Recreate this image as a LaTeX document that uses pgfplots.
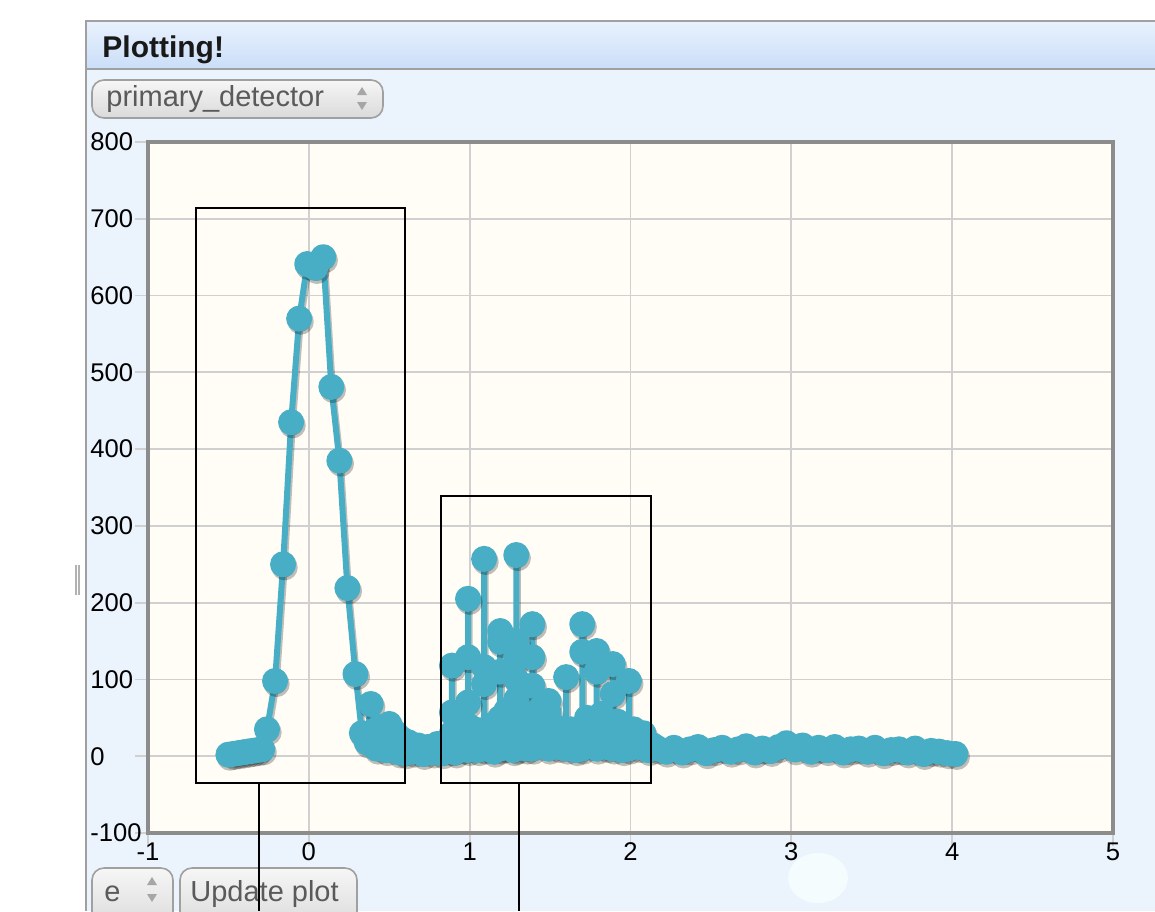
\documentclass[border=0pt]{standalone}
\usepackage{pgfplots}
\pgfplotsset{compat=1.18}
\usepackage{pgfplotstable}
\usepackage{fontspec}
\setmainfont{Liberation Sans}
\definecolor{panel}{RGB}{235,243,253}
\definecolor{bartop}{RGB}{233,242,253}
\definecolor{barbot}{RGB}{202,222,248}
\definecolor{bordc}{RGB}{160,160,160}
\definecolor{plotbg}{RGB}{255,253,246}
\definecolor{gridc}{RGB}{208,208,208}
\definecolor{axisc}{RGB}{140,140,140}
\definecolor{series}{RGB}{71,174,198}
\definecolor{btntop}{RGB}{246,246,246}
\definecolor{btnbot}{RGB}{218,218,218}
\definecolor{btntext}{RGB}{90,90,90}

\pgfplotstableread{
x y
-0.50 2
-0.47 3
-0.44 4
-0.41 5
-0.38 6
-0.35 7
-0.32 8
-0.29 9
-0.26 35
-0.21 98
-0.16 250
-0.11 435
-0.06 570
-0.01 641
0.04 636
0.09 650
0.14 481
0.19 385
0.24 219
0.29 107
0.33 30
0.36 18
0.385 68
0.40 25
0.42 10
0.44 38
0.46 20
0.48 8
0.50 42
0.52 15
0.54 30
0.56 5
0.58 22
0.60 4
0.62 18
0.65 6
0.68 14
0.71 3
0.74 12
0.77 5
0.80 16
0.83 4
0.86 20
0.89 8
0.89 57
0.89 118
0.89 30
0.91 5
0.93 25
0.96 10
0.99 8
0.99 70
0.99 129
0.99 205
0.99 40
1.01 15
1.03 35
1.05 8
1.07 30
1.09 10
1.09 94
1.09 116
1.09 257
1.09 30
1.11 12
1.13 40
1.15 6
1.17 30
1.19 10
1.19 110
1.19 149
1.19 163
1.19 50
1.21 12
1.23 60
1.25 20
1.27 8
1.29 10
1.29 74
1.29 100
1.29 126
1.29 150
1.29 262
1.29 40
1.31 15
1.33 55
1.35 10
1.37 30
1.39 10
1.39 92
1.39 129
1.39 172
1.39 35
1.42 55
1.44 62
1.46 20
1.49 10
1.49 57
1.49 72
1.49 30
1.52 40
1.55 12
1.57 30
1.60 10
1.60 103
1.60 20
1.63 35
1.66 8
1.70 10
1.70 136
1.70 172
1.70 30
1.73 50
1.76 15
1.79 10
1.79 110
1.79 137
1.79 40
1.82 55
1.85 12
1.89 10
1.89 81
1.89 120
1.89 30
1.92 45
1.95 8
1.99 10
1.99 98
1.99 20
2.02 35
2.05 12
2.08 30
2.11 8
2.14 14
2.17 10
2.22 6
2.27 11
2.32 5
2.37 9
2.42 12
2.47 4
2.52 8
2.57 11
2.62 6
2.67 9
2.72 13
2.77 5
2.82 10
2.87 7
2.92 12
2.97 17
3.02 9
3.07 14
3.12 6
3.17 11
3.22 8
3.27 12
3.32 5
3.37 9
3.42 10
3.47 6
3.52 11
3.57 4
3.62 8
3.67 9
3.72 5
3.77 10
3.82 3
3.87 7
3.92 6
3.97 4
4.02 3
}\datatable

\begin{document}
\begin{tikzpicture}
\begin{scope}[x=0.5pt,y=-0.5pt]
\useasboundingbox (0,0) rectangle (1155,911);
\clip (0,0) rectangle (1155,911);
\fill[white] (0,0) rectangle (1155,911);
\fill[panel] (86,20) rectangle (1155,911);
% splitter
\draw[gray!60, line width=0.8pt] (76,565) -- (76,595);
\draw[gray!60, line width=0.8pt] (79,565) -- (79,595);
% title bar
\shade[top color=bartop, bottom color=barbot] (86,21) rectangle (1155,69);
\draw[bordc, line width=1.2pt] (86,21) -- (1155,21);
\draw[bordc, line width=1.2pt] (86,69) -- (1155,69);
\draw[bordc, line width=1.2pt] (86,20) -- (86,911);
\node[anchor=base west, inner sep=0pt, font=\fontsize{15}{17}\selectfont\bfseries, text=black!90] at (102,57) {Plotting!};
% dropdown
\shade[top color=btntop, bottom color=btnbot, rounded corners=6] (92,80) rectangle (383,118);
\draw[bordc, line width=0.8pt, rounded corners=6] (92,80) rectangle (383,118);
\node[anchor=base west, inner sep=0pt, font=\fontsize{14.5}{17}\selectfont, text=btntext] at (106,106) {primary\_detector};
\fill[gray!70] (357,95) -- (367,95) -- (362,87) -- cycle;
\fill[gray!70] (357,102) -- (367,102) -- (362,110) -- cycle;
% bottom buttons
\shade[top color=btntop, bottom color=btnbot, rounded corners=6] (92,868) rectangle (173,930);
\draw[bordc, line width=0.8pt, rounded corners=6] (92,868) rectangle (173,930);
\node[anchor=base west, inner sep=0pt, font=\fontsize{14.5}{17}\selectfont, text=btntext] at (104,901) {e};
\fill[gray!70] (147,885) -- (157,885) -- (152,877) -- cycle;
\fill[gray!70] (147,894) -- (157,894) -- (152,902) -- cycle;
\shade[top color=btntop, bottom color=btnbot, rounded corners=6] (180,868) rectangle (357,930);
\draw[bordc, line width=0.8pt, rounded corners=6] (180,868) rectangle (357,930);
\node[anchor=base west, inner sep=0pt, font=\fontsize{14.5}{17}\selectfont, text=btntext] at (190,901) {Update plot};
% cursor blob
\fill[cyan!4!white] (818,878) ellipse [x radius=30, y radius=25];
\end{scope}

\begin{axis}[
  at={(74pt,-416.5pt)}, anchor=south west,
  scale only axis, width=482.5pt, height=345.5pt,
  xmin=-1, xmax=5, ymin=-100, ymax=800,
  xtick={-1,0,...,5}, ytick={-100,0,100,...,800},
  xtick pos=bottom, ytick pos=left,
  grid=major, grid style={draw=gridc, line width=0.9pt},
  axis background/.style={fill=plotbg},
  axis line style={draw=axisc, line width=2pt},
  tick align=outside, major tick length=6.5pt,
  tick style={draw=gridc, line width=0.9pt},
  /pgf/number format/assume math mode=true,
  ticklabel style={font=\fontsize{12.8}{14}\selectfont, text=black},
  yticklabel style={anchor=west, inner sep=0pt, xshift=-22.5pt},
  xticklabel style={anchor=north, inner sep=0pt, yshift=2pt},
]
\addplot[black, opacity=0.25, line width=3pt, line join=round, line cap=round, mark=*, mark size=5pt,
  mark options={draw=none, fill=black}, xshift=0.8pt, yshift=-1.5pt]
  table[x=x, y=y] {\datatable};
\addplot[series, line width=3pt, line join=round, line cap=round, mark=*, mark size=5pt,
  mark options={draw=none, fill=series}]
  table[x=x, y=y] {\datatable};
\end{axis}

\begin{scope}[x=0.5pt,y=-0.5pt]
\draw[black, line width=0.6pt] (196,208) rectangle (405,783);
\draw[black, line width=0.6pt] (259,783) -- (259,911);
\draw[black, line width=0.6pt] (441,496) rectangle (651,783);
\draw[black, line width=0.6pt] (519,783) -- (519,911);
\end{scope}
\end{tikzpicture}
\end{document}
